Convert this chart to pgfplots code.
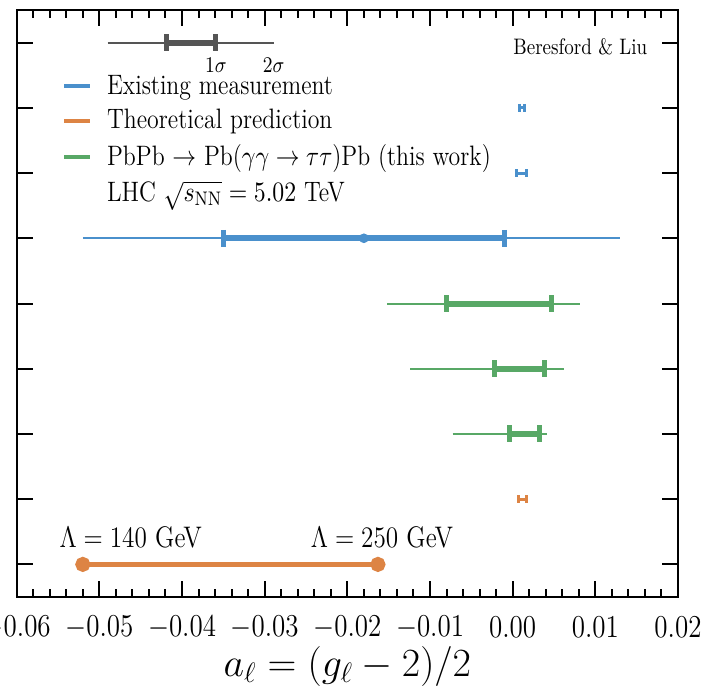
\documentclass[border=0pt]{standalone}
\usepackage{fix-cm}
\usepackage{fontspec}
\usepackage{pgfplots}
\pgfplotsset{compat=1.18}

\definecolor{cblue}{RGB}{74,144,204}
\definecolor{corange}{RGB}{221,132,68}
\definecolor{cgreen}{RGB}{88,168,102}
\definecolor{cgray}{RGB}{85,85,85}

\tikzset{tall/.style={yscale=1.18}}

% thin 2 sigma line, thick 1 sigma bar with caps
\pgfplotsset{
  outer/.style={line width=1pt, mark=none},
  inner/.style={line width=3pt, mark=|, mark size=4.25pt, mark options={line width=2.5pt}},
  tiny/.style={line width=1.5pt, mark=|, mark size=2pt, mark options={line width=1.5pt}},
}

\begin{document}
\begin{tikzpicture}
\begin{scope}
\clip (-8.35pt,-49.5pt) rectangle (343.65pt,298.5pt);
\begin{axis}[
    scale only axis,
    width=330.65pt,
    height=293.5pt,
    xmin=-0.06, xmax=0.02,
    ymin=-0.5, ymax=8.5,
    xtick={-0.06,-0.05,-0.04,-0.03,-0.02,-0.01,0,0.01,0.02},
    minor x tick num=4,
    scaled x ticks=false,
    xticklabel style={/pgf/number format/.cd, fixed, fixed zerofill, precision=2},
    ytick={0,1,2,3,4,5,6,7,8},
    yticklabels={},
    tick align=inside,
    axis line style={line width=1pt},
    every tick/.style={black, line width=1pt},
    major tick length=8pt,
    minor tick length=4pt,
    ticklabel style={font=\fontsize{13.5}{14}\selectfont, tall, anchor=center, yshift=-13pt},
    xlabel={$a_\ell = (g_\ell - 2)/2$},
    xlabel style={font=\fontsize{20}{20}\selectfont, at={(axis description cs:0.5,0)}, anchor=center, yshift=-34.5pt},
    legend style={at={(rel axis cs:0.059,0.905)}, anchor=north west, draw=none, fill=none,
        font=\fontsize{11.9}{13}\selectfont, row sep=1.25pt, column sep=5.5pt,
        cells={anchor=west}, nodes={tall}},
    legend image code/.code={\draw[line width=2pt] (0pt,0pt) -- (13pt,0pt);},
]
% 1 sigma / 2 sigma key
\addplot[cgray, outer, forget plot] coordinates {(-0.0490,8) (-0.0289,8)};
\addplot[cgray, inner, forget plot] coordinates {(-0.0419,8) (-0.0359,8)};

% existing measurements: a_e, a_mu, DELPHI a_tau
\addplot[cblue, tiny, forget plot] coordinates {(0.00086,7) (0.00146,7)};
\addplot[cblue, tiny, forget plot] coordinates {(0.00052,6) (0.00172,6)};
\addplot[cblue, outer, forget plot] coordinates {(-0.052,5) (0.013,5)};
\addplot[cblue, inner, forget plot] coordinates {(-0.035,5) (-0.001,5)};
\addplot[cblue, only marks, mark=*, mark size=2.2pt, forget plot] coordinates {(-0.018,5)};

% this work
\addplot[cgreen, outer, forget plot] coordinates {(-0.01517,4) (0.00815,4)};
\addplot[cgreen, inner, forget plot] coordinates {(-0.00798,4) (0.00464,4)};
\addplot[cgreen, outer, forget plot] coordinates {(-0.01242,3) (0.00617,3)};
\addplot[cgreen, inner, forget plot] coordinates {(-0.00214,3) (0.00379,3)};
\addplot[cgreen, outer, forget plot] coordinates {(-0.00725,2) (0.00419,2)};
\addplot[cgreen, inner, forget plot] coordinates {(-0.00041,2) (0.00322,2)};

% theory
\addplot[corange, tiny, forget plot] coordinates {(0.00067,1) (0.00167,1)};
\addplot[corange, line width=2.5pt, mark=*, mark size=2.5pt, forget plot] coordinates {(-0.0520,0) (-0.0163,0)};

\addlegendimage{cblue}
\addlegendentry{Existing measurement}
\addlegendimage{corange}
\addlegendentry{Theoretical prediction}
\addlegendimage{cgreen}
\addlegendentry{PbPb $\rightarrow$ Pb($\gamma\gamma \rightarrow \tau\tau$)Pb (this work)}
\addlegendimage{empty legend}
\addlegendentry{LHC $\sqrt{s_{\mathrm{NN}}} = 5.02$ TeV}

\node[tall, font=\fontsize{9.5}{10}\selectfont] at (axis cs:-0.0359,7.66) {$1\sigma$};
\node[tall, font=\fontsize{9.5}{10}\selectfont] at (axis cs:-0.0289,7.66) {$2\sigma$};
\node[tall, font=\fontsize{9.5}{10}\selectfont, anchor=east] at (rel axis cs:0.964,0.937) {Beresford \& Liu};
\node[tall, font=\fontsize{12.6}{13}\selectfont] at (axis cs:-0.0462,0.41) {$\Lambda = 140$ GeV};
\node[tall, font=\fontsize{12.6}{13}\selectfont] at (axis cs:-0.0158,0.41) {$\Lambda = 250$ GeV};
\end{axis}
\end{scope}
\pgfresetboundingbox
\useasboundingbox (-8.35pt,-49.5pt) rectangle (343.65pt,298.5pt);
\end{tikzpicture}
\end{document}
